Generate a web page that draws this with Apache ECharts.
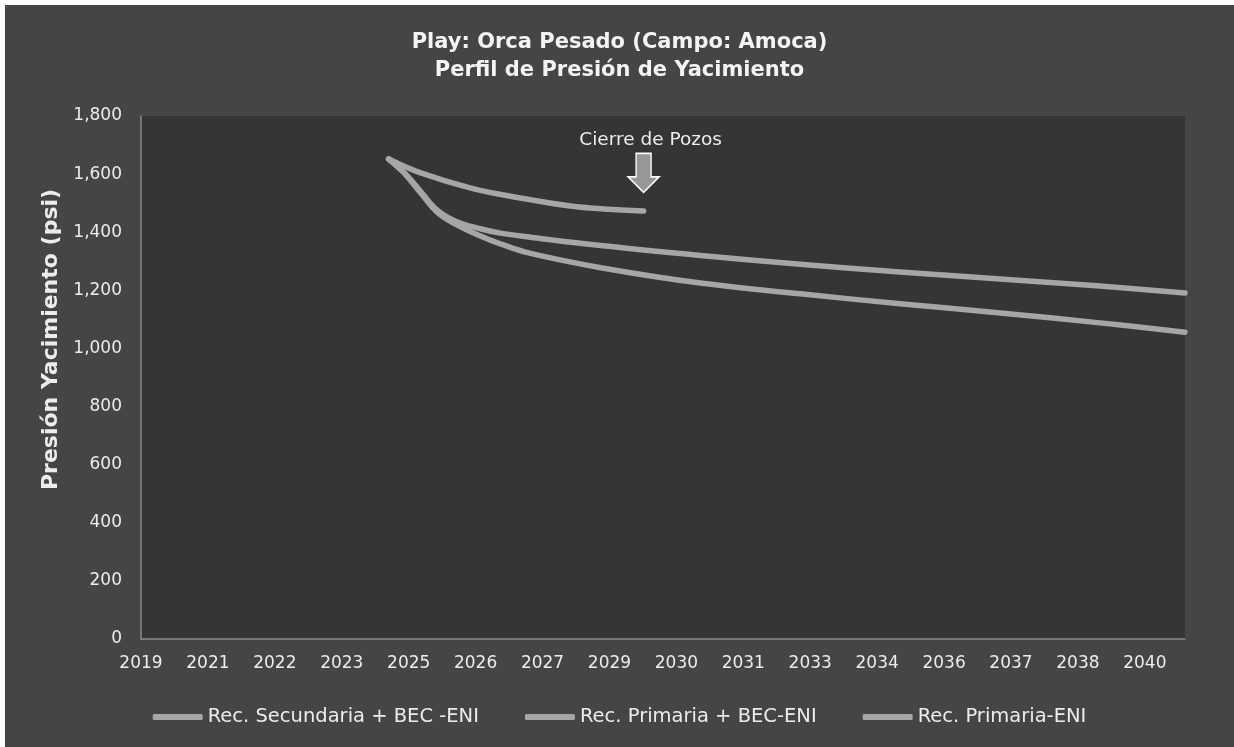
<!DOCTYPE html>
<html><head><meta charset="utf-8">
<script src="https://cdn.jsdelivr.net/npm/echarts@6/dist/echarts.min.js"></script>
<style>
html,body{margin:0;padding:0;background:#ffffff;}
#c{position:absolute;left:5px;top:5px;width:1229px;height:742px;}
</style>
</head><body><div id="c"></div>
<script>
// ---- data (x = position on the time axis in label steps, y = psi) ----
const xTickLabels = ['2019','2021','2022','2023','2025','2026','2027','2029','2030','2031','2033','2034','2036','2037','2038','2040'];
const seriesNames = ['Rec. Secundaria + BEC -ENI', 'Rec. Primaria + BEC-ENI', 'Rec. Primaria-ENI'];

const secX = [3.70, 3.93, 4.18, 4.43, 4.70, 5.07, 5.37, 5.82, 6.87, 8.36, 9.85, 11.34, 12.84, 14.33, 15.60];
const secY = [1652, 1606, 1540, 1475, 1438, 1412, 1397, 1383, 1354, 1320, 1290, 1263, 1239, 1215, 1191];

const priBecX = [3.70, 3.93, 4.18, 4.43, 4.70, 5.07, 5.37, 5.82, 6.87, 8.36, 9.85, 11.34, 12.84, 14.33, 15.60];
const priBecY = [1652, 1604, 1535, 1468, 1428, 1387, 1360, 1327, 1278, 1225, 1188, 1154, 1122, 1088, 1056];

const priX = [3.70, 4.18, 4.93, 5.67, 6.42, 6.91, 7.51];
const priY = [1652, 1604, 1552, 1518, 1490, 1480, 1473];

const annotationText = 'Cierre de Pozos';
const annotationValue = 1604;

const titleText = 'Play: Orca Pesado (Campo: Amoca)\nPerfil de Presión de Yacimiento';
const yAxisName = 'Presión Yacimiento (psi)';

// ---- build ----
const zip = (xs, ys) => xs.map((x, i) => [x, ys[i]]);
const FONT = 'DejaVu Sans';
const LINE = '#a6a6a6';
const TXT = '#ececec';

const chart = echarts.init(document.getElementById('c'), null, {renderer: 'canvas'});

const lineSeries = (name, data) => ({
  name, type: 'line', data, showSymbol: false, symbol: 'none', smooth: 0.4,
  lineStyle: {color: LINE, width: 5.5, cap: 'round', join: 'round'},
  itemStyle: {color: LINE},
  z: 3
});

const s3 = lineSeries(seriesNames[2], zip(priX, priY));
s3.markPoint = {
  symbol: 'path://M8.5,0 H24.5 V24 H33 L16.5,40 L0,24 H8.5 Z',
  symbolSize: [31, 39],
  silent: true,
  itemStyle: {color: '#979797', borderColor: '#ffffff', borderWidth: 1.5},
  label: {
    show: true, position: 'top', distance: 3, offset: [7, 0],
    formatter: annotationText, color: TXT, fontFamily: FONT, fontSize: 18.5
  },
  data: [{coord: [priX[priX.length - 1], annotationValue]}]
};

chart.setOption({
  backgroundColor: '#454545',
  animation: false,
  title: {
    text: titleText, left: 'center', top: 19,
    textStyle: {color: '#f4f4f4', fontFamily: FONT, fontWeight: 'bold', fontSize: 21, lineHeight: 28}
  },
  grid: {
    left: 136, right: 49, top: 111, bottom: 108, show: true,
    backgroundColor: '#353535', borderWidth: 0, containLabel: false
  },
  legend: {
    bottom: 15, left: 'center', icon: 'roundRect', itemWidth: 50, itemHeight: 6, itemGap: 46,
    textStyle: {color: TXT, fontFamily: FONT, fontSize: 19.5},
    data: seriesNames.map(n => ({name: n, itemStyle: {color: LINE}}))
  },
  xAxis: {
    type: 'value', min: 0, max: 15.6, interval: 1,
    axisLine: {show: true, lineStyle: {color: '#8a8a8a', width: 1.5}},
    axisTick: {show: false},
    splitLine: {show: false},
    axisLabel: {
      color: TXT, fontFamily: FONT, fontSize: 17, margin: 16, showMaxLabel: false,
      formatter: v => (Number.isInteger(v) && xTickLabels[v] !== undefined) ? xTickLabels[v] : ''
    }
  },
  yAxis: {
    type: 'value', min: 0, max: 1800, interval: 200,
    name: yAxisName, nameLocation: 'middle', nameGap: 76,
    nameTextStyle: {color: TXT, fontFamily: FONT, fontSize: 22, fontWeight: 'bold', padding: [0, 0, 0, 76]},
    axisLine: {show: true, lineStyle: {color: '#8a8a8a', width: 1.5}},
    axisTick: {show: false},
    splitLine: {show: false},
    axisLabel: {
      color: TXT, fontFamily: FONT, fontSize: 17, margin: 19,
      formatter: v => v.toLocaleString('en-US')
    }
  },
  series: [
    lineSeries(seriesNames[0], zip(secX, secY)),
    lineSeries(seriesNames[1], zip(priBecX, priBecY)),
    s3
  ]
});
</script>
</body></html>
